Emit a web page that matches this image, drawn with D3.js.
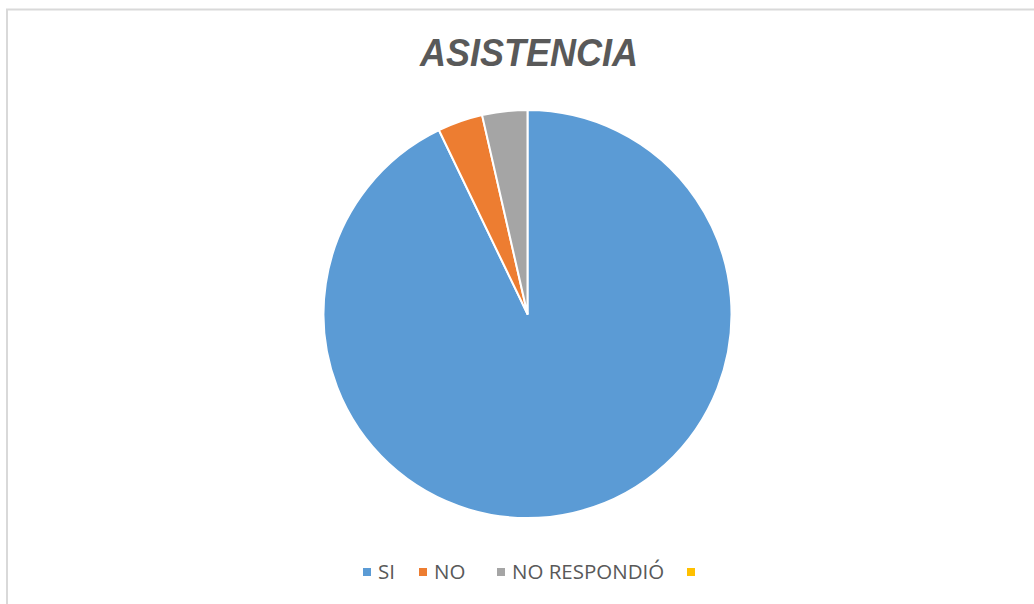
<!DOCTYPE html>
<html><head><meta charset="utf-8">
<script src="https://cdn.jsdelivr.net/npm/d3@7"></script>
<style>html,body{margin:0;padding:0;background:#fff;}svg{display:block;}</style>
</head><body>
<svg id="chart" width="1034" height="604"></svg>
<script>
const title = "ASISTENCIA";
const categories = ["SI", "NO", "NO RESPONDIÓ", ""];
const values = [26, 1, 1, 0];
const colors = ["#5B9BD5", "#ED7D31", "#A5A5A5", "#FFC000"];

const svg = d3.select("#chart");
// chart frame
svg.append("rect").attr("x", 7).attr("y", 9.5).attr("width", 1040).attr("height", 610)
  .attr("fill", "#fff").attr("stroke", "#d9d9d9").attr("stroke-width", 2);

svg.append("text").attr("x", 529).attr("y", 66).attr("text-anchor", "middle")
  .attr("font-family", "Liberation Sans, Arial, sans-serif").attr("font-weight", "bold")
  .attr("font-style", "italic").attr("font-size", 38).attr("fill", "#595959")
  .attr("textLength", 218).attr("lengthAdjust", "spacingAndGlyphs").text(title);

const cx = 527.5, cy = 314, r = 204;
const data = categories.map((c, i) => ({cat: c, value: values[i], color: colors[i]}));
const pie = d3.pie().value(d => d.value).sort(null);
const arc = d3.arc().innerRadius(0).outerRadius(r);
const g = svg.append("g").attr("transform", `translate(${cx},${cy})`);
g.selectAll("path").data(pie(data).filter(d => d.data.value > 0)).join("path")
  .attr("d", arc).attr("fill", d => d.data.color)
  .attr("stroke", "#fff").attr("stroke-width", 2).attr("stroke-linejoin", "round");

// legend
const color = d3.scaleOrdinal().domain(categories).range(colors);
const legendX = [363, 419, 497, 687];
const lg = svg.append("g").attr("font-family", "Open Sans, sans-serif").attr("font-size", 20.5).attr("fill", "#595959");
categories.forEach((c, i) => {
  lg.append("rect").attr("x", legendX[i]).attr("y", 568).attr("width", 8).attr("height", 8).attr("fill", color(c));
  lg.append("text").attr("x", legendX[i] + 15).attr("y", 579).text(c);
});
</script>
</body></html>
